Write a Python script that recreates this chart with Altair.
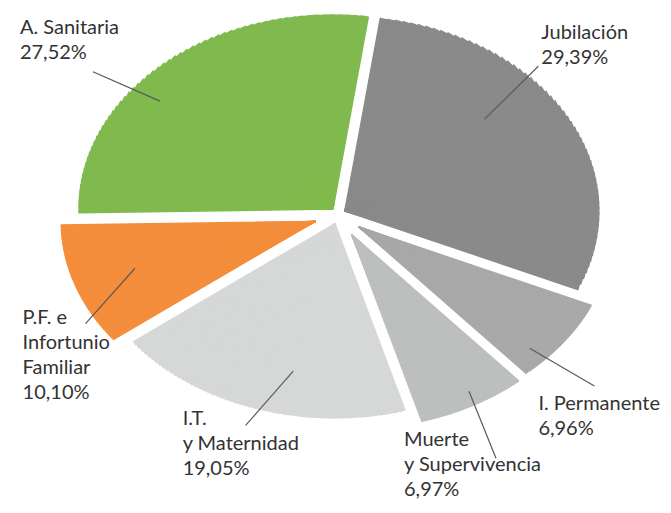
import math
import altair as alt
import pandas as pd

# ---- data ----
categories = ["Jubilación", "I. Permanente", "Muerte y Supervivencia",
              "I.T. y Maternidad", "P.F. e Infortunio Familiar", "A. Sanitaria"]
label_lines = ["Jubilación", "I. Permanente", "Muerte|y Supervivencia",
               "I.T.|y Maternidad", "P.F. e|Infortunio|Familiar", "A. Sanitaria"]
values = [29.39, 6.96, 6.97, 19.05, 10.10, 27.52]

# ---- styling / annotation layout ----
colors = ["#898a89", "#a8a9a8", "#bcbfbe", "#d6d8d7", "#f48e3c", "#80ba4e"]
lead_in_angle = [56.8, 124.8, 143.4, 196.0, 255.3, 302.6]   # degrees, clockwise from top
lead_in_r = [0.76, 1.02, 1.045, 0.824, 0.845, 0.914]          # fraction of ellipse radius
lead_out_angle = [53.4, 123.7, 147.0, 203.7, 246.7, 300.3]
lead_out_r = [1.10, 1.34, 1.40, 1.144, 1.141, 1.215]
text_dx = [3, -56, -92, -63, -63, -73]
text_dy = [-27, 24, -12, 0, 0, -38]

total = sum(values)
CX, CY = 330, 207          # pie centre (px)
A, B = 254, 194            # ellipse half-axes (px) of the tilted pie
START = math.radians(8)    # start angle (on the untilted pie)
GAP = 12                   # white gap between slices (px)
CAP = 24
N = 60                     # sub-wedges per slice, to follow the ellipse outline

df = pd.DataFrame({
    "cat": categories, "label": label_lines, "value": values,
    "order": list(range(len(values))),
    "lia": lead_in_angle, "lir": lead_in_r,
    "loa": lead_out_angle, "lor": lead_out_r,
    "tdx": text_dx, "tdy": text_dy,
})


def ell(t):
    # radius of the ellipse in screen direction t
    return f"(1/sqrt(pow(sin({t})/{A},2)+pow(cos({t})/{B},2)))"


def scr(t):
    # screen angle of the point at angle t of the untilted pie
    return f"({t} + atan2({A}*sin({t}), {B}*cos({t})) - atan2(sin({t}), cos({t})))"


base = alt.Chart(df).transform_window(
    cum="sum(value)", sort=[alt.SortField("order", order="ascending")], frame=[None, 0]
).transform_calculate(
    c0="datum.cum - datum.value",
).transform_calculate(
    t0=f"{START} + 2*PI*datum.c0/{total}",
    t1=f"{START} + 2*PI*datum.cum/{total}",
).transform_calculate(
    s0=scr("datum.t0"),
    s1=scr("datum.t1"),
).transform_calculate(
    mid="(datum.s0 + datum.s1)/2",
    d=f"min({CAP}, {GAP / 2}/sin((datum.s1 - datum.s0)/2))",
).transform_calculate(
    cx=f"{CX} + datum.d*sin(datum.mid)",
    cy=f"{CY} - datum.d*cos(datum.mid)",
)

color_scale = alt.Scale(domain=categories, range=colors)

arcs = base.transform_calculate(
    k=f"sequence(0, {N})"
).transform_flatten(["k"]).transform_calculate(
    u0=f"datum.t0 + (datum.t1 - datum.t0)*datum.k/{N}",
    u1=f"datum.t0 + (datum.t1 - datum.t0)*(datum.k+1)/{N}",
).transform_calculate(
    um="(datum.u0 + datum.u1)/2",
    a0=scr("datum.u0"),
    a1=scr("datum.u1"),
).transform_calculate(
    r=f"sqrt(pow({A}*sin(datum.um),2) + pow({B}*cos(datum.um),2))",
).mark_arc(strokeWidth=1.4).encode(
    theta=alt.Theta("a0:Q", stack=False, scale=None),
    theta2=alt.Theta2("a1:Q"),
    radius=alt.Radius("r:Q", scale=None),
    x=alt.X("cx:Q", scale=None, axis=None),
    y=alt.Y("cy:Q", scale=None, axis=None),
    color=alt.Color("cat:N", scale=color_scale, legend=None),
    stroke=alt.Stroke("cat:N", scale=color_scale, legend=None),
)

lead = base.transform_calculate(
    ia="datum.lia*PI/180",
    oa="datum.loa*PI/180",
).transform_calculate(
    ir="datum.lir*" + ell("datum.ia"),
    orad="datum.lor*" + ell("datum.oa"),
).transform_calculate(
    x1=f"{CX} + datum.ir*sin(datum.ia)",
    y1=f"{CY} - datum.ir*cos(datum.ia)",
    x2=f"{CX} + datum.orad*sin(datum.oa)",
    y2=f"{CY} - datum.orad*cos(datum.oa)",
).transform_calculate(
    tx="datum.x2 + datum.tdx",
    ty="datum.y2 + datum.tdy",
    txt="split(datum.label + '|' + replace(format(datum.value, '.2f'), '.', ',') + '%', '|')",
)

rules = lead.mark_rule(color="#5a5a5a", strokeWidth=1.2).encode(
    x=alt.X("x1:Q", scale=None, axis=None),
    y=alt.Y("y1:Q", scale=None, axis=None),
    x2="x2:Q",
    y2="y2:Q",
)

texts = lead.mark_text(
    align="left", baseline="alphabetic", fontSize=20, lineHeight=25,
    font="Lato", color="#333333",
).encode(
    x=alt.X("tx:Q", scale=None, axis=None),
    y=alt.Y("ty:Q", scale=None, axis=None),
    text=alt.Text("txt:N"),
)

chart = alt.layer(arcs, rules, texts).properties(
    width=655, height=497, padding=0
).configure_view(strokeWidth=0)

chart.save("out.html", embed_options={"renderer": "svg", "actions": False})
